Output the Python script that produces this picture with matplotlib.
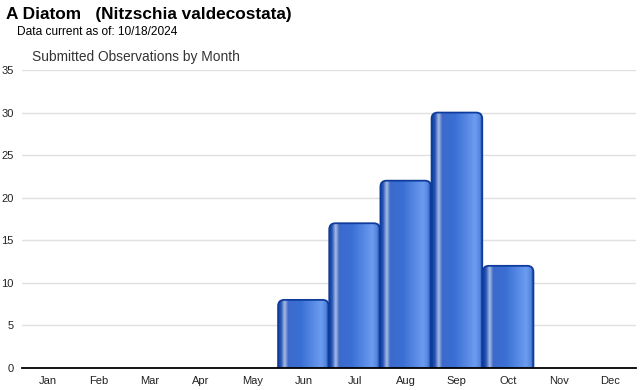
import matplotlib
matplotlib.use("Agg")
import matplotlib.pyplot as plt
import numpy as np
from matplotlib.patches import FancyBboxPatch
from matplotlib.colors import LinearSegmentedColormap

months = ["Jan", "Feb", "Mar", "Apr", "May", "Jun", "Jul", "Aug", "Sep", "Oct", "Nov", "Dec"]
counts = [0, 0, 0, 0, 0, 8, 17, 22, 30, 12, 0, 0]
yticks = [0, 5, 10, 15, 20, 25, 30, 35]

plt.rcParams['font.family'] = ['Liberation Sans', 'DejaVu Sans']

fig = plt.figure(figsize=(6.4, 3.9), dpi=100)
ax = fig.add_axes([22 / 640, 22 / 390, 614 / 640, 298 / 390])

# horizontal shading of each bar
shade = LinearSegmentedColormap.from_list("shade", [
    (0.00, "#0f3f9e"), (0.06, "#2a58b8"), (0.13, "#a9bde3"), (0.20, "#3c6acb"),
    (0.45, "#3a6fd4"), (0.85, "#6c9cf0"), (0.94, "#5486e0"), (1.00, "#123f9a")])
grad = shade(np.linspace(0, 1, 256))[None, :, :]

width = 0.99
for i, v in enumerate(counts):
    if v <= 0:
        continue
    x0 = i - width / 2
    patch = FancyBboxPatch((x0, -2), width, v + 2,
                           boxstyle="round,pad=0,rounding_size=0.12",
                           mutation_aspect=6.0, facecolor="none",
                           edgecolor="#0f3c9c", linewidth=1.3, zorder=3)
    ax.add_patch(patch)
    im = ax.imshow(grad, extent=[x0, x0 + width, -2, v], aspect="auto", zorder=2,
                   interpolation="bilinear")
    im.set_clip_path(patch)

ax.set_xlim(-0.5, 11.5)
ax.set_ylim(0, 35)
ax.set_aspect("auto")
ax.set_xticks(range(len(months)))
ax.set_xticklabels(months)
ax.set_yticks(yticks)
ax.tick_params(length=0, labelsize=8, colors="#222222", pad=6)
ax.tick_params(axis="y", pad=6)
ax.grid(axis="y", color="#e0e0e0", linewidth=1)
ax.set_axisbelow(True)
for s in ["top", "right", "left"]:
    ax.spines[s].set_visible(False)
ax.spines["bottom"].set_color("#000000")
ax.spines["bottom"].set_linewidth(1.3)
ax.spines["bottom"].set_zorder(5)

fig.text(6 / 640, 1 - 14 / 390, "A Diatom   (Nitzschia valdecostata)", fontsize=12.4,
         fontweight="bold", va="center", ha="left")
fig.text(17 / 640, 1 - 32 / 390, "Data current as of: 10/18/2024", fontsize=8.6,
         va="center", ha="left")
fig.text(32 / 640, 1 - 57 / 390, "Submitted Observations by Month", fontsize=9.9,
         color="#333333", va="center", ha="left")

fig.savefig("out.png", dpi=100)
